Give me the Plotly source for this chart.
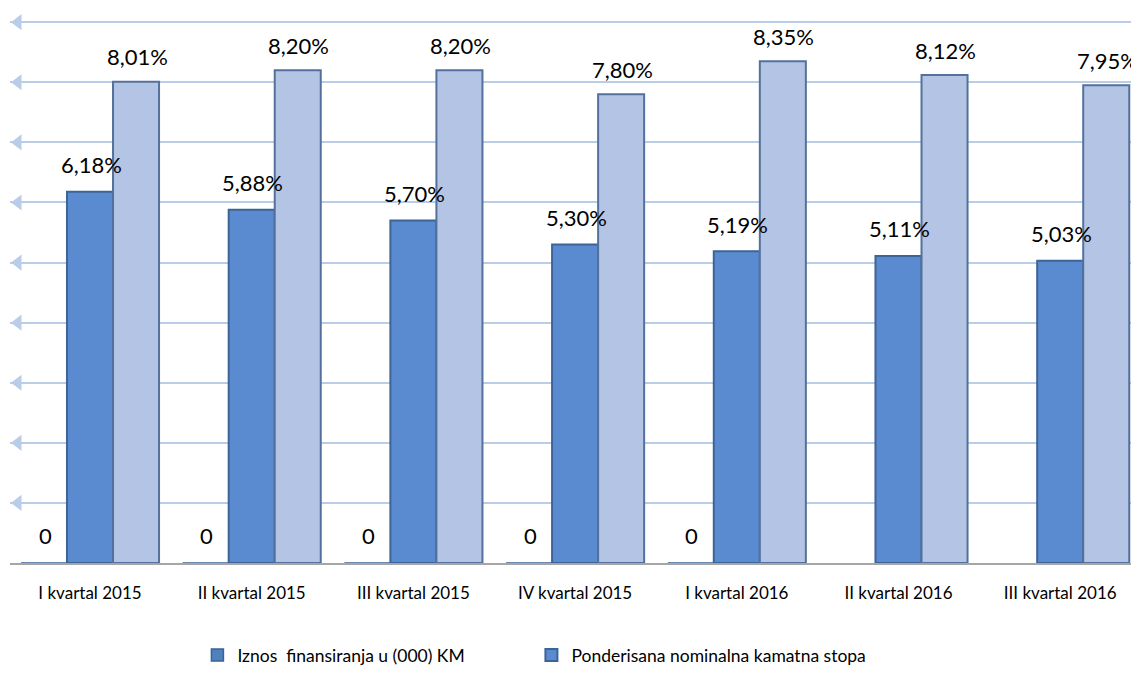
import plotly.graph_objects as go

categories = ["I kvartal 2015", "II kvartal 2015", "III kvartal 2015", "IV kvartal 2015",
              "I kvartal 2016", "II kvartal 2016", "III kvartal 2016"]
iznos = [0, 0, 0, 0, 0, None, None]
stopa_a = [6.18, 5.88, 5.70, 5.30, 5.19, 5.11, 5.03]
stopa_b = [8.01, 8.20, 8.20, 7.80, 8.35, 8.12, 7.95]
name_iznos = "Iznos  finansiranja u (000) KM"
name_stopa = "Ponderisana nominalna kamatna stopa"

FONT = "Lato"
BODY = 8                      # default page offset of the plot div
W, H = 1139 - BODY, 679 - BODY
ML, MR = 10 - BODY, 0
Y_TOP = 9.02
MT = round(22 - 0.02 * 60.1) - BODY
MB = H - (563 - BODY)
PX_PER_CAT = 161.7
CENTER0 = 90 - 10             # x of first group centre inside plot area
r0 = -CENTER0 / PX_PER_CAT
r1 = r0 + (W - ML - MR) / PX_PER_CAT
BAR_PX = 46

xs = list(range(len(categories)))


def fmt(v):
    return f"{v:.2f}".replace(".", ",") + "%"


fig = go.Figure()
fig.add_trace(go.Bar(x=xs, y=iznos, name=name_iznos,
                     marker=dict(color="#4f81bd", line=dict(color="#3b6396", width=1.5))))
fig.add_trace(go.Bar(x=xs, y=stopa_a, name=name_stopa,
                     marker=dict(color="#5a8bd0", line=dict(color="#3d6496", width=2))))
fig.add_trace(go.Bar(x=xs, y=stopa_b, name="", showlegend=False,
                     marker=dict(color="#b3c4e4", line=dict(color="#53719c", width=2))))

# decorative arrowheads at the left end of each gridline
grid_vals = list(range(1, 10))
fig.add_trace(go.Scatter(x=[r0 + 8 / PX_PER_CAT] * len(grid_vals), y=grid_vals, mode="markers",
                         marker=dict(symbol="triangle-left", size=14, color="#b9cde8"),
                         showlegend=False, hoverinfo="skip", cliponaxis=False))

annotations = []
for series, shift, ys in [(iznos, -BAR_PX, 28), (stopa_a, 0, 27), (stopa_b, BAR_PX, 25)]:
    for xi, v in zip(xs, series):
        if v is None:
            continue
        annotations.append(dict(x=xi, y=v, xref="x", yref="y", text="0" if v == 0 else fmt(v),
                                showarrow=False, xshift=shift + 1, yshift=ys,
                                font=dict(family=FONT, size=22, color="#000000")))

fig.update_layout(
    width=W, height=H,
    margin=dict(l=ML, r=MR, t=MT, b=MB),
    paper_bgcolor="white", plot_bgcolor="white",
    barmode="group", bargap=0.146, bargroupgap=0,
    font=dict(family=FONT, size=16, color="#000000"),
    annotations=annotations,
    xaxis=dict(range=[r0, r1], showgrid=False, showline=True, linecolor="#a6a6a6", linewidth=2,
               tickmode="array", tickvals=xs, ticktext=categories, ticks="",
               ticklabelstandoff=14,
               tickfont=dict(family=FONT, size=17, color="#000000")),
    yaxis=dict(range=[0, Y_TOP], dtick=1, showgrid=True, gridcolor="#b9cde8", gridwidth=2,
               showticklabels=False, zeroline=False, showline=False),
    legend=dict(orientation="h", x=0.166, xanchor="left", y=-0.17, yanchor="middle",
                font=dict(family=FONT, size=17.5, color="#000000"), itemwidth=30,
                entrywidth=289, traceorder="normal"),
)

fig.write_html("out.html")
